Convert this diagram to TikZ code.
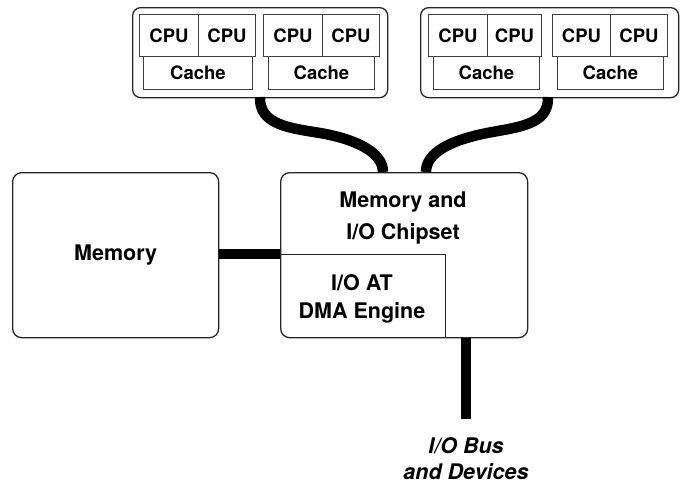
\documentclass[tikz,border=0pt]{standalone}
\usepackage{fontspec}
\setmainfont{TeX Gyre Heros}
\begin{document}
\begin{tikzpicture}[x=1pt,y=-1pt,
  outerbox/.style={draw=black!85,line width=1.3pt,rounded corners=8pt,anchor=north west,inner sep=0pt},
  cell/.style={draw=black!75,line width=1pt,anchor=north west,inner sep=0pt,font=\fontsize{18.5}{20}\selectfont\bfseries},
  bigbox/.style={draw=black!85,line width=1.3pt,rounded corners=9pt,anchor=north west,inner sep=0pt},
  bigtext/.style={font=\fontsize{21.5}{32}\selectfont\bfseries,align=center,inner sep=0pt},
  link/.style={line width=10.5pt,black},
  bus/.style={line width=10.5pt,black,line cap=butt}]
\useasboundingbox (0,0) rectangle (683,485);
% packages
\node[outerbox,minimum width=255pt,minimum height=90pt] (pkgL) at (132,7) {};
\node[outerbox,minimum width=258pt,minimum height=90pt] (pkgR) at (420,7) {};
% left package, pair 1
\node[cell,minimum width=59pt,minimum height=42pt] (c1) at (139,14) {CPU};
\node[cell,minimum width=57pt,minimum height=42pt] (c2) at (198,14) {CPU};
\node[cell,minimum width=109pt,minimum height=33pt] (k1) at (143,56) {Cache};
% left package, pair 2
\node[cell,minimum width=59pt,minimum height=42pt] (c3) at (263,14) {CPU};
\node[cell,minimum width=57pt,minimum height=42pt] (c4) at (322,14) {CPU};
\node[cell,minimum width=106pt,minimum height=33pt] (k2) at (268,56) {Cache};
% right package, pair 1
\node[cell,minimum width=59pt,minimum height=42pt] (c5) at (428,14) {CPU};
\node[cell,minimum width=54pt,minimum height=42pt] (c6) at (487,14) {CPU};
\node[cell,minimum width=106pt,minimum height=33pt] (k3) at (433,56) {Cache};
% right package, pair 2
\node[cell,minimum width=58pt,minimum height=42pt] (c7) at (552,14) {CPU};
\node[cell,minimum width=57pt,minimum height=42pt] (c8) at (610,14) {CPU};
\node[cell,minimum width=106pt,minimum height=33pt] (k4) at (557,56) {Cache};
% memory and chipset
\node[bigbox,minimum width=206pt,minimum height=165pt] (mem) at (12,172) {};
\node[bigtext] (memtext) at (mem.center) {Memory};
\node[bigbox,minimum width=247pt,minimum height=165pt] (chip) at (280,172) {};
\node[bigtext] (chiptext) at (403,218) {Memory and\\I/O Chipset};
\node[anchor=north west,minimum width=165pt,minimum height=83pt,inner sep=0pt] (ioat) at (280,254) {};
\draw[black!85,line width=1pt] (ioat.north west) -- (ioat.north east) -- (ioat.south east);
\node[font=\fontsize{21.5}{28}\selectfont\bfseries,align=center,inner sep=0pt] (ioattext) at (362,299) {I/O AT\\DMA Engine};
% links
\coordinate (lt) at (260,97);
\coordinate (lm) at (320,133);
\coordinate (lb) at (383,172);
\coordinate (rt) at (548,97);
\coordinate (rm) at (487,133);
\coordinate (rb) at (426,172);
\draw[link] (lt) .. controls (259,125) and (290,128) .. (lm) .. controls (355,139) and (383,152) .. (lb);
\draw[link] (rt) .. controls (549,125) and (518,127) .. (rm) .. controls (452,140) and (426,152) .. (rb);
\draw[bus] (ioat.north west -| mem.east) -- (ioat.north west);
\coordinate (busend) at (466,419);
\draw[bus] (chip.south -| busend) -- (busend);
\node[font=\fontsize{21.5}{26}\selectfont\bfseries\itshape,align=center,inner sep=0pt] (iobus) at (466,459) {I/O Bus\\and Devices};
\end{tikzpicture}
\end{document}
